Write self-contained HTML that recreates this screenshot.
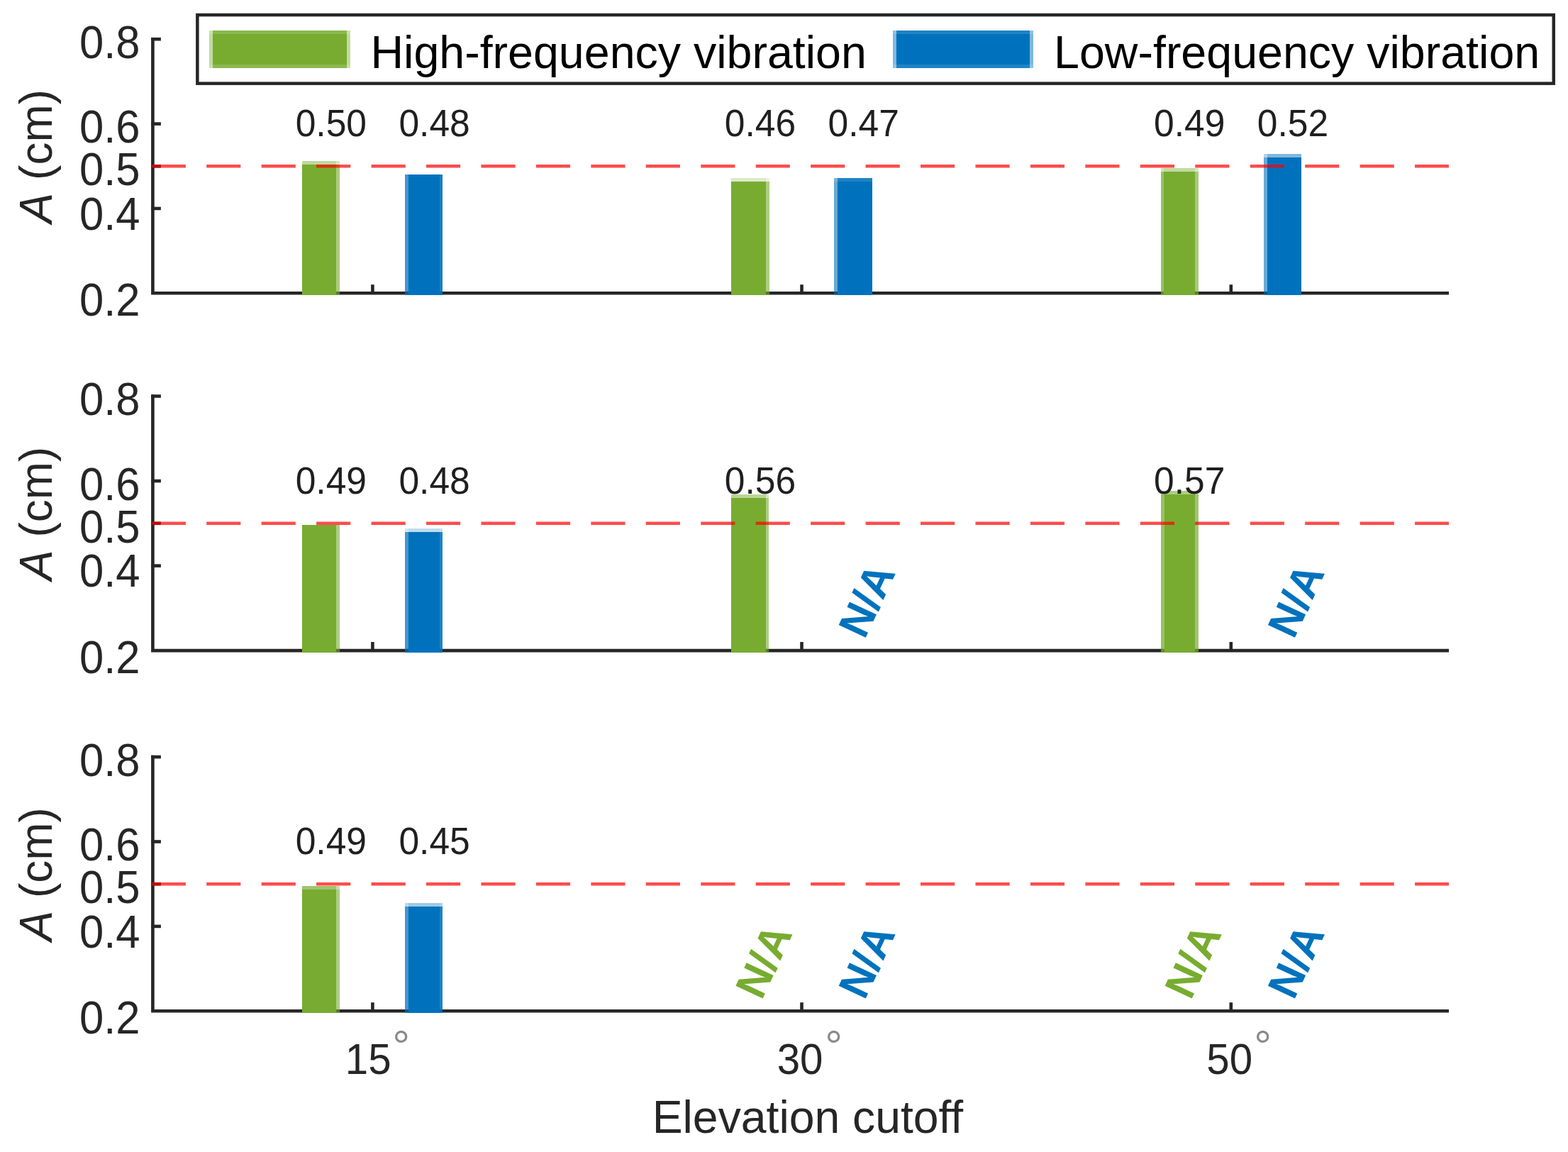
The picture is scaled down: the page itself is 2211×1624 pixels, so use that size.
<!DOCTYPE html><html><head><meta charset="utf-8"><title>Elevation cutoff bar chart</title>
<style>html,body{margin:0;padding:0;background:#fff;overflow:hidden;}svg{display:block;}text{font-family:"Liberation Sans", Arial, Helvetica, sans-serif;}</style></head><body>
<svg width="2211" height="1624" viewBox="0 0 2211 1624">
<rect x="0" y="0" width="2211" height="1624" fill="#fff"/>
<g id="sp1">
<path d="M215.40 52.90 V415.60 M213.10 413.30 H2043.00" stroke="#262626" stroke-width="4.6" fill="none"/>
<path d="M213.10 55.20 H226.9" stroke="#262626" stroke-width="4.6"/>
<path d="M213.10 174.57 H226.9" stroke="#262626" stroke-width="4.6"/>
<path d="M213.10 234.25 H226.9" stroke="#262626" stroke-width="4.6"/>
<path d="M213.10 293.93 H226.9" stroke="#262626" stroke-width="4.6"/>
<path d="M525.40 413.30 V401.20" stroke="#262626" stroke-width="4.6"/>
<path d="M1130.50 413.30 V401.20" stroke="#262626" stroke-width="4.6"/>
<path d="M1735.80 413.30 V401.20" stroke="#262626" stroke-width="4.6"/>
<rect x="426" y="232" width="48" height="184" fill="#77AC30"/>
<rect x="474" y="232" width="5" height="184" fill="#77AC30" fill-opacity="0.62"/>
<rect x="426" y="227" width="48" height="5" fill="#77AC30" fill-opacity="0.47"/>
<rect x="474" y="227" width="5" height="5" fill="#77AC30" fill-opacity="0.29"/>
<rect x="576" y="246" width="44" height="170" fill="#0072BD"/>
<rect x="571" y="246" width="5" height="170" fill="#0072BD" fill-opacity="0.74"/>
<rect x="620" y="246" width="4" height="170" fill="#0072BD" fill-opacity="0.9"/>
<rect x="1031" y="256" width="49" height="160" fill="#77AC30"/>
<rect x="1080" y="256" width="5" height="160" fill="#77AC30" fill-opacity="0.6"/>
<rect x="1031" y="251" width="49" height="5" fill="#77AC30" fill-opacity="0.26"/>
<rect x="1080" y="251" width="5" height="5" fill="#77AC30" fill-opacity="0.16"/>
<rect x="1181" y="256" width="49" height="160" fill="#0072BD"/>
<rect x="1176" y="256" width="5" height="160" fill="#0072BD" fill-opacity="0.6"/>
<rect x="1181" y="251" width="49" height="5" fill="#0072BD" fill-opacity="0.88"/>
<rect x="1176" y="251" width="5" height="5" fill="#0072BD" fill-opacity="0.53"/>
<rect x="1641" y="242" width="44" height="174" fill="#77AC30"/>
<rect x="1637" y="242" width="4" height="174" fill="#77AC30" fill-opacity="0.75"/>
<rect x="1685" y="242" width="5" height="174" fill="#77AC30" fill-opacity="0.65"/>
<rect x="1641" y="237" width="44" height="5" fill="#77AC30" fill-opacity="0.45"/>
<rect x="1637" y="237" width="4" height="5" fill="#77AC30" fill-opacity="0.34"/>
<rect x="1685" y="237" width="5" height="5" fill="#77AC30" fill-opacity="0.29"/>
<rect x="1787" y="222" width="48" height="194" fill="#0072BD"/>
<rect x="1782" y="222" width="5" height="194" fill="#0072BD" fill-opacity="0.6"/>
<rect x="1787" y="217" width="48" height="5" fill="#0072BD" fill-opacity="0.5"/>
<rect x="1782" y="217" width="5" height="5" fill="#0072BD" fill-opacity="0.3"/>
<text transform="translate(197.60 82.10) scale(0.94 1)" font-size="65.5" fill="#262626" text-anchor="end">0.8</text>
<text transform="translate(197.60 201.47) scale(0.94 1)" font-size="65.5" fill="#262626" text-anchor="end">0.6</text>
<text transform="translate(197.60 261.15) scale(0.94 1)" font-size="65.5" fill="#262626" text-anchor="end">0.5</text>
<text transform="translate(197.60 323.53) scale(0.94 1)" font-size="65.5" fill="#262626" text-anchor="end">0.4</text>
<text transform="translate(197.60 445.00) scale(0.94 1)" font-size="65.5" fill="#262626" text-anchor="end">0.2</text>
<path d="M213.7 234.25 H2043.00" stroke="#ff0000" stroke-opacity="0.7" stroke-width="4.6" stroke-dasharray="48.2 29.25" fill="none"/>
<text transform="translate(416.69 192.30) scale(0.955 1)" font-size="54" fill="#1f1f1f">0.50</text>
<text transform="translate(562.39 192.30) scale(0.955 1)" font-size="54" fill="#1f1f1f">0.48</text>
<text transform="translate(1021.79 192.30) scale(0.955 1)" font-size="54" fill="#1f1f1f">0.46</text>
<text transform="translate(1167.49 192.30) scale(0.955 1)" font-size="54" fill="#1f1f1f">0.47</text>
<text transform="translate(1627.09 192.30) scale(0.955 1)" font-size="54" fill="#1f1f1f">0.49</text>
<text transform="translate(1772.79 192.30) scale(0.955 1)" font-size="54" fill="#1f1f1f">0.52</text>
<text transform="translate(72.5 314.4) rotate(-90)" font-size="64" fill="#262626"><tspan font-style="italic">A</tspan> (cm)</text>
</g>
<g id="sp2">
<path d="M215.40 556.20 V919.40 M213.10 917.10 H2043.00" stroke="#262626" stroke-width="4.6" fill="none"/>
<path d="M213.10 558.50 H226.9" stroke="#262626" stroke-width="4.6"/>
<path d="M213.10 678.03 H226.9" stroke="#262626" stroke-width="4.6"/>
<path d="M213.10 737.80 H226.9" stroke="#262626" stroke-width="4.6"/>
<path d="M213.10 797.57 H226.9" stroke="#262626" stroke-width="4.6"/>
<path d="M525.40 917.10 V905.00" stroke="#262626" stroke-width="4.6"/>
<path d="M1130.50 917.10 V905.00" stroke="#262626" stroke-width="4.6"/>
<path d="M1735.80 917.10 V905.00" stroke="#262626" stroke-width="4.6"/>
<rect x="426" y="740" width="48" height="180" fill="#77AC30"/>
<rect x="474" y="740" width="5" height="180" fill="#77AC30" fill-opacity="0.6"/>
<rect x="576" y="750" width="44" height="170" fill="#0072BD"/>
<rect x="571" y="750" width="5" height="170" fill="#0072BD" fill-opacity="0.74"/>
<rect x="620" y="750" width="4" height="170" fill="#0072BD" fill-opacity="0.88"/>
<rect x="576" y="745" width="44" height="5" fill="#0072BD" fill-opacity="0.25"/>
<rect x="571" y="745" width="5" height="5" fill="#0072BD" fill-opacity="0.18"/>
<rect x="620" y="745" width="4" height="5" fill="#0072BD" fill-opacity="0.22"/>
<rect x="1031" y="702" width="49" height="218" fill="#77AC30"/>
<rect x="1080" y="702" width="4" height="218" fill="#77AC30" fill-opacity="0.6"/>
<rect x="1031" y="697" width="49" height="5" fill="#77AC30" fill-opacity="0.5"/>
<rect x="1080" y="697" width="4" height="5" fill="#77AC30" fill-opacity="0.3"/>
<rect x="1642" y="697" width="43" height="223" fill="#77AC30"/>
<rect x="1637" y="697" width="5" height="223" fill="#77AC30" fill-opacity="0.75"/>
<rect x="1685" y="697" width="5" height="223" fill="#77AC30" fill-opacity="0.7"/>
<rect x="1642" y="692" width="43" height="5" fill="#77AC30" fill-opacity="0.6"/>
<rect x="1637" y="692" width="5" height="5" fill="#77AC30" fill-opacity="0.45"/>
<rect x="1685" y="692" width="5" height="5" fill="#77AC30" fill-opacity="0.42"/>
<text transform="translate(197.60 585.40) scale(0.94 1)" font-size="65.5" fill="#262626" text-anchor="end">0.8</text>
<text transform="translate(197.60 704.93) scale(0.94 1)" font-size="65.5" fill="#262626" text-anchor="end">0.6</text>
<text transform="translate(197.60 764.70) scale(0.94 1)" font-size="65.5" fill="#262626" text-anchor="end">0.5</text>
<text transform="translate(197.60 827.17) scale(0.94 1)" font-size="65.5" fill="#262626" text-anchor="end">0.4</text>
<text transform="translate(197.60 948.80) scale(0.94 1)" font-size="65.5" fill="#262626" text-anchor="end">0.2</text>
<path d="M213.7 737.80 H2043.00" stroke="#ff0000" stroke-opacity="0.7" stroke-width="4.6" stroke-dasharray="48.2 29.25" fill="none"/>
<text transform="translate(416.69 696.00) scale(0.955 1)" font-size="54" fill="#1f1f1f">0.49</text>
<text transform="translate(562.39 696.00) scale(0.955 1)" font-size="54" fill="#1f1f1f">0.48</text>
<text transform="translate(1021.79 696.00) scale(0.955 1)" font-size="54" fill="#1f1f1f">0.56</text>
<text transform="translate(1627.09 696.00) scale(0.955 1)" font-size="54" fill="#1f1f1f">0.57</text>
<text transform="translate(1222.6 844.9) rotate(-65) translate(-53.8 21.0)" font-size="61" font-weight="bold" fill="#0072BD">N/A</text>
<text transform="translate(1827.9 844.9) rotate(-65) translate(-53.8 21.0)" font-size="61" font-weight="bold" fill="#0072BD">N/A</text>
<text transform="translate(72.5 818.0) rotate(-90)" font-size="64" fill="#262626"><tspan font-style="italic">A</tspan> (cm)</text>
</g>
<g id="sp3">
<path d="M215.40 1064.80 V1427.60 M213.10 1425.30 H2043.00" stroke="#262626" stroke-width="4.6" fill="none"/>
<path d="M213.10 1067.10 H226.9" stroke="#262626" stroke-width="4.6"/>
<path d="M213.10 1186.50 H226.9" stroke="#262626" stroke-width="4.6"/>
<path d="M213.10 1246.20 H226.9" stroke="#262626" stroke-width="4.6"/>
<path d="M213.10 1305.90 H226.9" stroke="#262626" stroke-width="4.6"/>
<path d="M525.40 1425.30 V1413.20" stroke="#262626" stroke-width="4.6"/>
<path d="M1130.50 1425.30 V1413.20" stroke="#262626" stroke-width="4.6"/>
<path d="M1735.80 1425.30 V1413.20" stroke="#262626" stroke-width="4.6"/>
<rect x="426" y="1254" width="48" height="174" fill="#77AC30"/>
<rect x="474" y="1254" width="5" height="174" fill="#77AC30" fill-opacity="0.6"/>
<rect x="426" y="1249" width="48" height="5" fill="#77AC30" fill-opacity="0.7"/>
<rect x="474" y="1249" width="5" height="5" fill="#77AC30" fill-opacity="0.42"/>
<rect x="576" y="1278" width="44" height="150" fill="#0072BD"/>
<rect x="571" y="1278" width="5" height="150" fill="#0072BD" fill-opacity="0.74"/>
<rect x="620" y="1278" width="4" height="150" fill="#0072BD" fill-opacity="0.88"/>
<rect x="576" y="1273" width="44" height="5" fill="#0072BD" fill-opacity="0.38"/>
<rect x="571" y="1273" width="5" height="5" fill="#0072BD" fill-opacity="0.28"/>
<rect x="620" y="1273" width="4" height="5" fill="#0072BD" fill-opacity="0.33"/>
<text transform="translate(197.60 1094.00) scale(0.94 1)" font-size="65.5" fill="#262626" text-anchor="end">0.8</text>
<text transform="translate(197.60 1213.40) scale(0.94 1)" font-size="65.5" fill="#262626" text-anchor="end">0.6</text>
<text transform="translate(197.60 1273.10) scale(0.94 1)" font-size="65.5" fill="#262626" text-anchor="end">0.5</text>
<text transform="translate(197.60 1335.50) scale(0.94 1)" font-size="65.5" fill="#262626" text-anchor="end">0.4</text>
<text transform="translate(197.60 1457.00) scale(0.94 1)" font-size="65.5" fill="#262626" text-anchor="end">0.2</text>
<path d="M213.7 1246.20 H2043.00" stroke="#ff0000" stroke-opacity="0.7" stroke-width="4.6" stroke-dasharray="48.2 29.25" fill="none"/>
<text transform="translate(416.69 1204.40) scale(0.955 1)" font-size="54" fill="#1f1f1f">0.49</text>
<text transform="translate(562.39 1204.40) scale(0.955 1)" font-size="54" fill="#1f1f1f">0.45</text>
<text transform="translate(1077.4 1353.5) rotate(-65) translate(-53.8 21.0)" font-size="61" font-weight="bold" fill="#77AC30">N/A</text>
<text transform="translate(1222.6 1353.5) rotate(-65) translate(-53.8 21.0)" font-size="61" font-weight="bold" fill="#0072BD">N/A</text>
<text transform="translate(1682.7 1353.5) rotate(-65) translate(-53.8 21.0)" font-size="61" font-weight="bold" fill="#77AC30">N/A</text>
<text transform="translate(1827.9 1353.5) rotate(-65) translate(-53.8 21.0)" font-size="61" font-weight="bold" fill="#0072BD">N/A</text>
<text transform="translate(72.5 1326.5) rotate(-90)" font-size="64" fill="#262626"><tspan font-style="italic">A</tspan> (cm)</text>
</g>
<text transform="translate(486.87 1514.30) scale(0.94 1)" font-size="62" fill="#262626">15</text>
<text transform="translate(553.28 1496.00)" font-size="62" fill="#8a8a8a">°</text>
<text transform="translate(1095.63 1514.30) scale(0.94 1)" font-size="62" fill="#262626">30</text>
<text transform="translate(1163.28 1496.00)" font-size="62" fill="#8a8a8a">°</text>
<text transform="translate(1701.23 1514.30) scale(0.94 1)" font-size="62" fill="#262626">50</text>
<text transform="translate(1768.28 1496.00)" font-size="62" fill="#8a8a8a">°</text>
<text transform="translate(919.70 1596.80)" font-size="64.3" fill="#262626">Elevation cutoff</text>
<rect x="278.35" y="21.05" width="1912.4" height="96.6" fill="#fff" stroke="#262626" stroke-width="4.5"/>
<rect x="300" y="48" width="189" height="43" fill="#77AC30"/>
<rect x="295" y="48" width="5" height="43" fill="#77AC30" fill-opacity="0.45"/>
<rect x="489" y="48" width="5" height="43" fill="#77AC30" fill-opacity="0.45"/>
<rect x="300" y="43" width="189" height="5" fill="#77AC30" fill-opacity="0.85"/>
<rect x="300" y="91" width="189" height="5" fill="#77AC30" fill-opacity="0.85"/>
<rect x="295" y="43" width="5" height="5" fill="#77AC30" fill-opacity="0.38"/>
<rect x="295" y="91" width="5" height="5" fill="#77AC30" fill-opacity="0.38"/>
<rect x="489" y="43" width="5" height="5" fill="#77AC30" fill-opacity="0.38"/>
<rect x="489" y="91" width="5" height="5" fill="#77AC30" fill-opacity="0.38"/>
<rect x="1264" y="48" width="188" height="43" fill="#0072BD"/>
<rect x="1259" y="48" width="5" height="43" fill="#0072BD" fill-opacity="0.5"/>
<rect x="1452" y="48" width="5" height="43" fill="#0072BD" fill-opacity="0.5"/>
<rect x="1264" y="43" width="188" height="5" fill="#0072BD" fill-opacity="0.88"/>
<rect x="1264" y="91" width="188" height="5" fill="#0072BD" fill-opacity="0.88"/>
<rect x="1259" y="43" width="5" height="5" fill="#0072BD" fill-opacity="0.44"/>
<rect x="1259" y="91" width="5" height="5" fill="#0072BD" fill-opacity="0.44"/>
<rect x="1452" y="43" width="5" height="5" fill="#0072BD" fill-opacity="0.44"/>
<rect x="1452" y="91" width="5" height="5" fill="#0072BD" fill-opacity="0.44"/>
<text transform="translate(522.49 95.80) scale(0.996 1)" font-size="64.8" fill="#000">High-frequency vibration</text>
<text transform="translate(1486.09 95.80) scale(0.996 1)" font-size="64.8" fill="#000">Low-frequency vibration</text>
</svg></body></html>
